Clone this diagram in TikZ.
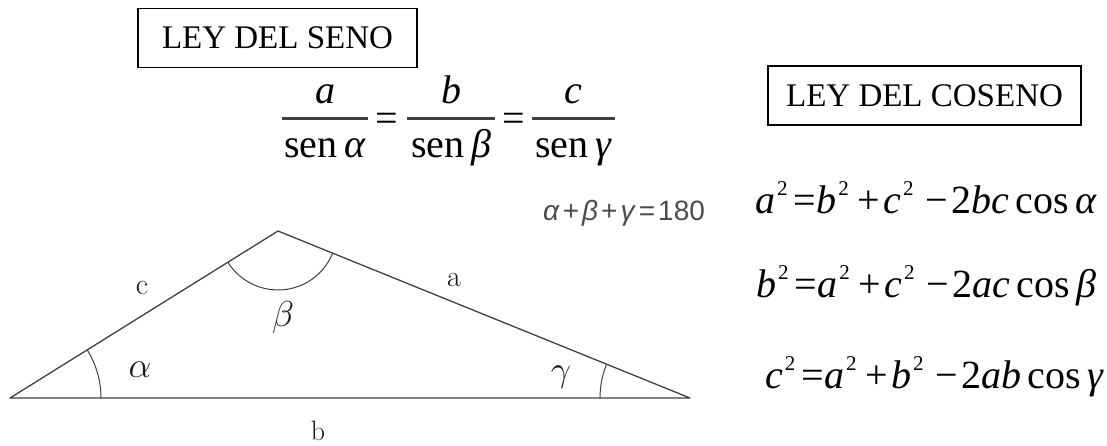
\documentclass[tikz,border=0pt]{standalone}
\usepackage{graphicx}
\usepackage{fontspec}
\setmainfont{Liberation Serif}
\newfontfamily\sansgr{Liberation Sans}
\newfontfamily\lmrom{Latin Modern Roman}
\newcommand{\sqr}{\hspace{2pt}\raisebox{0.45em}{\fontsize{21}{21}\selectfont 2}}
\newcommand{\eqs}{\hspace{6pt}=}
\newcommand{\pls}{\hspace{9pt}+\hspace{3pt}}
\newcommand{\mns}{\hspace{12pt}−\hspace{3pt}}
\newcommand{\op}[1]{\hspace{3pt}#1\hspace{3pt}}
\newcommand{\grk}[1]{\scalebox{1.45}{$#1$}}
\tikzset{
  titlebox/.style={draw=black, line width=1.5pt, font=\fontsize{33}{36}\selectfont, minimum height=59pt, inner xsep=0pt},
  frac/.style={font=\fontsize{40}{44}\selectfont, anchor=base, inner sep=0pt},
  fbar/.style={line width=3pt, color=black!75},
  cosf/.style={font=\fontsize{40}{44}\selectfont, anchor=base west, inner sep=0pt},
  tri/.style={line width=1.3pt, color=black!75},
  lbl/.style={font=\lmrom\fontsize{30}{33}\selectfont, inner sep=0pt, color=black!90},
}
\begin{document}
\begin{tikzpicture}[x=1pt,y=-1pt]
\useasboundingbox (0,0) rectangle (1107,445);
% titles
\node[titlebox, minimum width=279pt] (seno) at (277.5,38) {LEY DEL SENO};
\node[titlebox, minimum width=313pt] (coseno) at (924.5,95.5) {LEY DEL COSENO};
% law of sines
\node[frac] (n1) at (325,103) {\textit{a}};
\node[frac] (n2) at (451,103) {\textit{b}};
\node[frac] (n3) at (573.5,103) {\textit{c}};
\coordinate (b1l) at (282,118); \coordinate (b1r) at (368,118);
\coordinate (b2l) at (407,118); \coordinate (b2r) at (495,118);
\coordinate (b3l) at (532,118); \coordinate (b3r) at (615,118);
\draw[fbar] (b1l) -- (b1r);
\draw[fbar] (b2l) -- (b2r);
\draw[fbar] (b3l) -- (b3r);
\node[frac] (e1) at (386.5,131) {=};
\node[frac] (e2) at (514,131) {=};
\node[frac] (d1) at (325,157) {sen\,\textit{α}};
\node[frac] (d2) at (451,157) {sen\,\textit{β}};
\node[frac] (d3) at (573.5,157) {sen\,\textit{γ}};
% angle sum
\node[font=\sansgr\fontsize{28}{30}\selectfont, color=black!70, inner sep=0pt, anchor=base west] (sum) at (543,220) {\textit{α}\op{+}\textit{β}\op{+}\textit{γ}\op{=}180};
% law of cosines
\node[cosf] (c1) at (755,213) {\textit{a}\sqr\eqs\textit{b}\sqr\pls\textit{c}\sqr\mns2\textit{bc}\,cos\,\textit{α}};
\node[cosf] (c2) at (756,297) {\textit{b}\sqr\eqs\textit{a}\sqr\pls\textit{c}\sqr\mns2\textit{ac}\,cos\,\textit{β}};
\node[cosf] (c3) at (765,388) {\textit{c}\sqr\eqs\textit{a}\sqr\pls\textit{b}\sqr\mns2\textit{ab}\,cos\,\textit{γ}};
% triangle
\coordinate (A) at (10,398);
\coordinate (B) at (278,231);
\coordinate (C) at (690,398);
\draw[tri, line join=round] (A) -- (B) -- (C) -- cycle;
\draw[tri, line width=1pt] (A) ++(0:91pt) arc[start angle=0, end angle=31.93, radius=91pt];
\draw[tri, line width=1pt] (B) ++(211.93:59pt) arc[start angle=211.93, end angle=337.94, radius=59pt];
\draw[tri, line width=1pt] (C) ++(180:90pt) arc[start angle=180, end angle=157.94, radius=90pt];
\node[lbl] (lc) at (142,288) {c};
\node[lbl] (la) at (454,280) {a};
\node[lbl, anchor=base, font=\lmrom\fontsize{28}{30}\selectfont] (lb) at (318,440) {b};
\node[lbl] (lal) at (140,370) {\grk{\alpha}};
\node[lbl] (lbe) at (283,317) {\grk{\beta}};
\node[lbl] (lga) at (561,377) {\grk{\gamma}};
\end{tikzpicture}
\end{document}
